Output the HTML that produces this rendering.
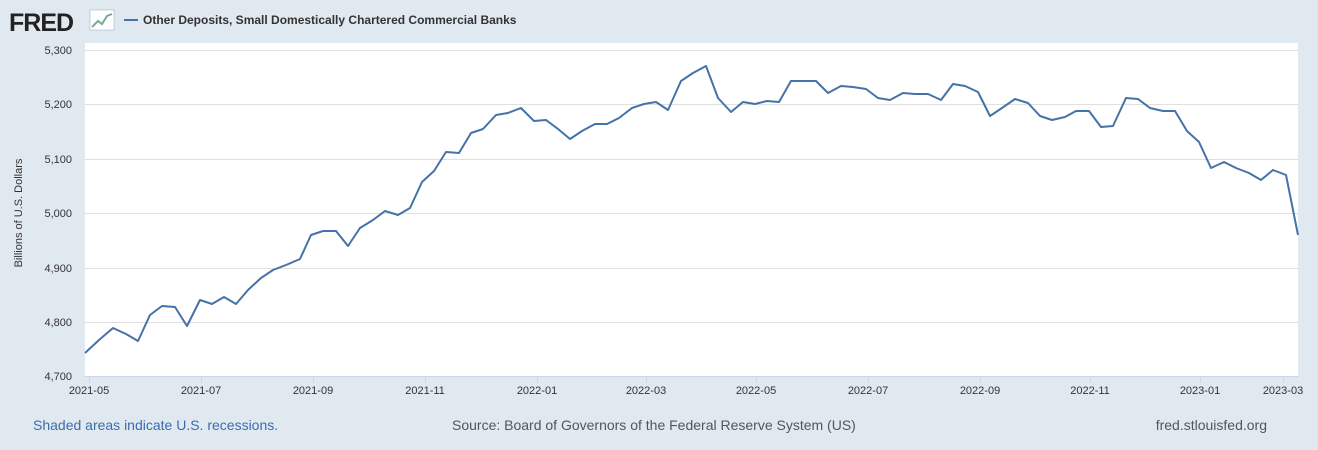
<!DOCTYPE html>
<html><head><meta charset="utf-8"><style>
html,body{margin:0;padding:0;background:#e1e9f0;width:1318px;height:450px;overflow:hidden;font-family:"Liberation Sans",sans-serif;}
</style></head><body>
<svg width="1318" height="450" xmlns="http://www.w3.org/2000/svg" style="position:absolute;left:0;top:0">
<rect x="0" y="0" width="1318" height="450" fill="#e1e9f0"/>
<text x="9" y="31" font-family="Liberation Sans" font-weight="bold" font-size="25" fill="#222" letter-spacing="-1">FRED</text>
<g transform="translate(90,10)">
<rect x="0" y="0" width="24" height="20" fill="#fff" stroke="#9ab" stroke-width="0.5"/>
<polyline points="2,17 8,11 12,14 17,6 22,4" fill="none" stroke="#7a9" stroke-width="2"/>
</g>
<line x1="124" y1="20" x2="138" y2="20" stroke="#4572a7" stroke-width="2"/>
<text x="143" y="24" font-size="12" font-weight="bold" fill="#333">Other Deposits, Small Domestically Chartered Commercial Banks</text>
<rect x="85" y="43" width="1213" height="333" fill="#fff"/>
<g stroke="#e0e0e0" stroke-width="1">
<line x1="85" y1="50.5" x2="1298" y2="50.5"/><line x1="85" y1="104.5" x2="1298" y2="104.5"/>
<line x1="85" y1="159.5" x2="1298" y2="159.5"/><line x1="85" y1="213.5" x2="1298" y2="213.5"/>
<line x1="85" y1="268.5" x2="1298" y2="268.5"/><line x1="85" y1="322.5" x2="1298" y2="322.5"/>
</g>
<line x1="85" y1="376.5" x2="1298" y2="376.5" stroke="#ccd6eb"/>
<g font-size="11" fill="#333" text-anchor="end">
<text x="72" y="54">5,300</text><text x="72" y="108">5,200</text><text x="72" y="163">5,100</text>
<text x="72" y="217">5,000</text><text x="72" y="272">4,900</text><text x="72" y="326">4,800</text><text x="72" y="380">4,700</text>
</g>
<text transform="translate(22,213) rotate(-90)" font-size="11" fill="#333" text-anchor="middle">Billions of U.S. Dollars</text>
<g font-size="11" fill="#333" text-anchor="middle">
<text x="89" y="394">2021-05</text><text x="201" y="394">2021-07</text><text x="313" y="394">2021-09</text>
<text x="425" y="394">2021-11</text><text x="537" y="394">2022-01</text><text x="646" y="394">2022-03</text>
<text x="756" y="394">2022-05</text><text x="868" y="394">2022-07</text><text x="980" y="394">2022-09</text>
<text x="1090" y="394">2022-11</text><text x="1200" y="394">2023-01</text><text x="1283" y="394">2023-03</text>
</g>
<g stroke="#ccd6eb"><line x1="89.5" y1="376" x2="89.5" y2="382"/><line x1="201.5" y1="376" x2="201.5" y2="382"/><line x1="313.5" y1="376" x2="313.5" y2="382"/><line x1="425.5" y1="376" x2="425.5" y2="382"/><line x1="537.5" y1="376" x2="537.5" y2="382"/><line x1="646.5" y1="376" x2="646.5" y2="382"/><line x1="756.5" y1="376" x2="756.5" y2="382"/><line x1="868.5" y1="376" x2="868.5" y2="382"/><line x1="980.5" y1="376" x2="980.5" y2="382"/><line x1="1090.5" y1="376" x2="1090.5" y2="382"/><line x1="1200.5" y1="376" x2="1200.5" y2="382"/><line x1="1283.5" y1="376" x2="1283.5" y2="382"/></g>
<polyline fill="none" stroke="#4572a7" stroke-width="2" stroke-linejoin="round" points="85,353 99,340 113,328 126,334 138,341 150,315 162,306 175,307 187,326 200,300 212,304 224,297 236,304 248,290 261,278 273,270 286,265 300,259 311,235 323,231 336,231 348,246 360,228 373,220 385,211 398,215 410,208 422,182 434,171 446,152 459,153 471,133 483,129 496,115 508,113 521,108 534,121 546,120 558,129 570,139 582,131 595,124 607,124 619,118 632,108 644,104 656,102 668,110 681,81 693,73 706,66 718,98 731,112 743,102 755,104 767,101 779,102 791,81 803,81 816,81 828,93 841,86 853,87 866,89 878,98 890,100 903,93 915,94 928,94 941,100 953,84 965,86 978,92 990,116 1002,108 1015,99 1028,103 1040,116 1052,120 1065,117 1076,111 1089,111 1101,127 1113,126 1126,98 1138,99 1150,108 1163,111 1175,111 1187,131 1199,142 1211,168 1224,162 1236,168 1249,173 1261,180 1273,170 1286,175 1298,235"/>
<text x="33" y="430" font-size="14" fill="#3b6cb0">Shaded areas indicate U.S. recessions.</text>
<text x="452" y="430" font-size="14" fill="#555">Source: Board of Governors of the Federal Reserve System (US)</text>
<text x="1267" y="430" font-size="14" fill="#555" text-anchor="end">fred.stlouisfed.org</text>
</svg>
</body></html>
